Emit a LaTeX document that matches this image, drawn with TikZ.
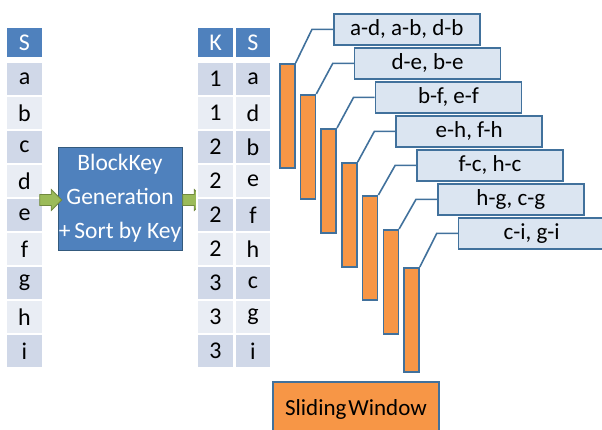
\documentclass[tikz,border=0pt]{standalone}
\usepackage{fontspec}
\setmainfont{Carlito}
\usetikzlibrary{shapes.arrows}
\definecolor{hdr}{HTML}{4F81BD}
\definecolor{rowdark}{HTML}{D0D8E8}
\definecolor{rowlight}{HTML}{E9EDF4}
\definecolor{edgeblue}{HTML}{41719C}
\definecolor{winorange}{HTML}{F79646}
\definecolor{lblfill}{HTML}{DBE5F1}
\definecolor{agreen}{HTML}{9BBB59}
\definecolor{agreenedge}{HTML}{71893F}
\tikzset{
  cell/.style={rectangle, draw=white, line width=1.2pt, inner sep=0pt, minimum height=34pt, font=\fontsize{24}{24}\selectfont},
  hcell/.style={cell, fill=hdr, text=white, minimum height=31pt},
  dk/.style={cell, fill=rowdark},
  lt/.style={cell, fill=rowlight},
  winbar/.style={rectangle, draw=edgeblue, line width=1.6pt, fill=winorange, minimum width=15pt, minimum height=104pt, inner sep=0pt, anchor=north west},
  pairbox/.style={rectangle, draw=edgeblue, line width=1.6pt, fill=lblfill, minimum width=146pt, minimum height=31pt, inner sep=0pt, anchor=north west, font=\fontsize{23}{23}\selectfont},
  link/.style={draw=edgeblue, line width=1.6pt},
  garrow/.style={single arrow, draw=agreenedge, fill=agreen, line width=0.8pt, inner sep=5pt, minimum height=22pt, minimum width=21pt, single arrow head extend=5pt},
}
\begin{document}
\begin{tikzpicture}[x=1pt,y=-1pt]
\useasboundingbox (0,0) rectangle (602,429);
% left table
\node[hcell, minimum width=37pt] (lh) at (24.5,42.5) {S};
\foreach \t/\n [count=\i] in {a/dk,b/lt,c/dk,d/lt,e/dk,f/lt,g/dk,h/lt,i/dk}{
  \node[\n, minimum width=37pt] (l\i) at (24.5,{62+34*(\i-0.5)}) {\t};
}
% block key box
\node[rectangle, draw=edgeblue!80!black, line width=1pt, fill=hdr, text=white, minimum width=124pt, minimum height=103pt, inner sep=0pt, align=center, font=\fontsize{23.5}{34}\selectfont] (bk) at (120,198.5) {BlockKey\\Generation\\+\,Sort by Key};
% arrows
\node[garrow] (a1) at (48,200) {};
\node[garrow] (a2) at (191,200) {};
% right table
\node[hcell, minimum width=37pt] (kh) at (215.5,42.5) {K};
\node[hcell, minimum width=36pt] (sh) at (253,42.5) {S};
\foreach \k/\t/\n [count=\i] in {1/a/dk,1/d/lt,2/b/dk,2/e/lt,2/f/dk,2/h/lt,3/c/dk,3/g/lt,3/i/dk}{
  \node[\n, minimum width=37pt] (k\i) at (215.5,{62+34*(\i-0.5)}) {\k};
  \node[\n, minimum width=36pt] (s\i) at (253,{62+34*(\i-0.5)}) {\t};
}
% window bars and pair boxes
\foreach \top/\lab [count=\i] in {63/{a-d, a-b, d-b},94/{d-e, b-e},128/{b-f, e-f},162/{e-h, f-h},195/{f-c, h-c},229/{h-g, c-g},267/{c-i, g-i}}{
  \node[winbar] (w\i) at ({279+20.7*(\i-1)},\top) {};
  \node[pairbox] (p\i) at ({333+20.8*(\i-1)},{13+34*(\i-1)}) {\lab};
  \draw[link] (w\i.north east) -- ([xshift=-21pt]p\i.west) -- (p\i.west);
}
% sliding window label
\node[rectangle, draw=edgeblue, line width=1.6pt, fill=winorange, minimum width=166pt, minimum height=54pt, inner sep=0pt, font=\fontsize{23}{23}\selectfont] (sw) at (356,409) {Sliding\hspace{2pt}Window};
\end{tikzpicture}
\end{document}
